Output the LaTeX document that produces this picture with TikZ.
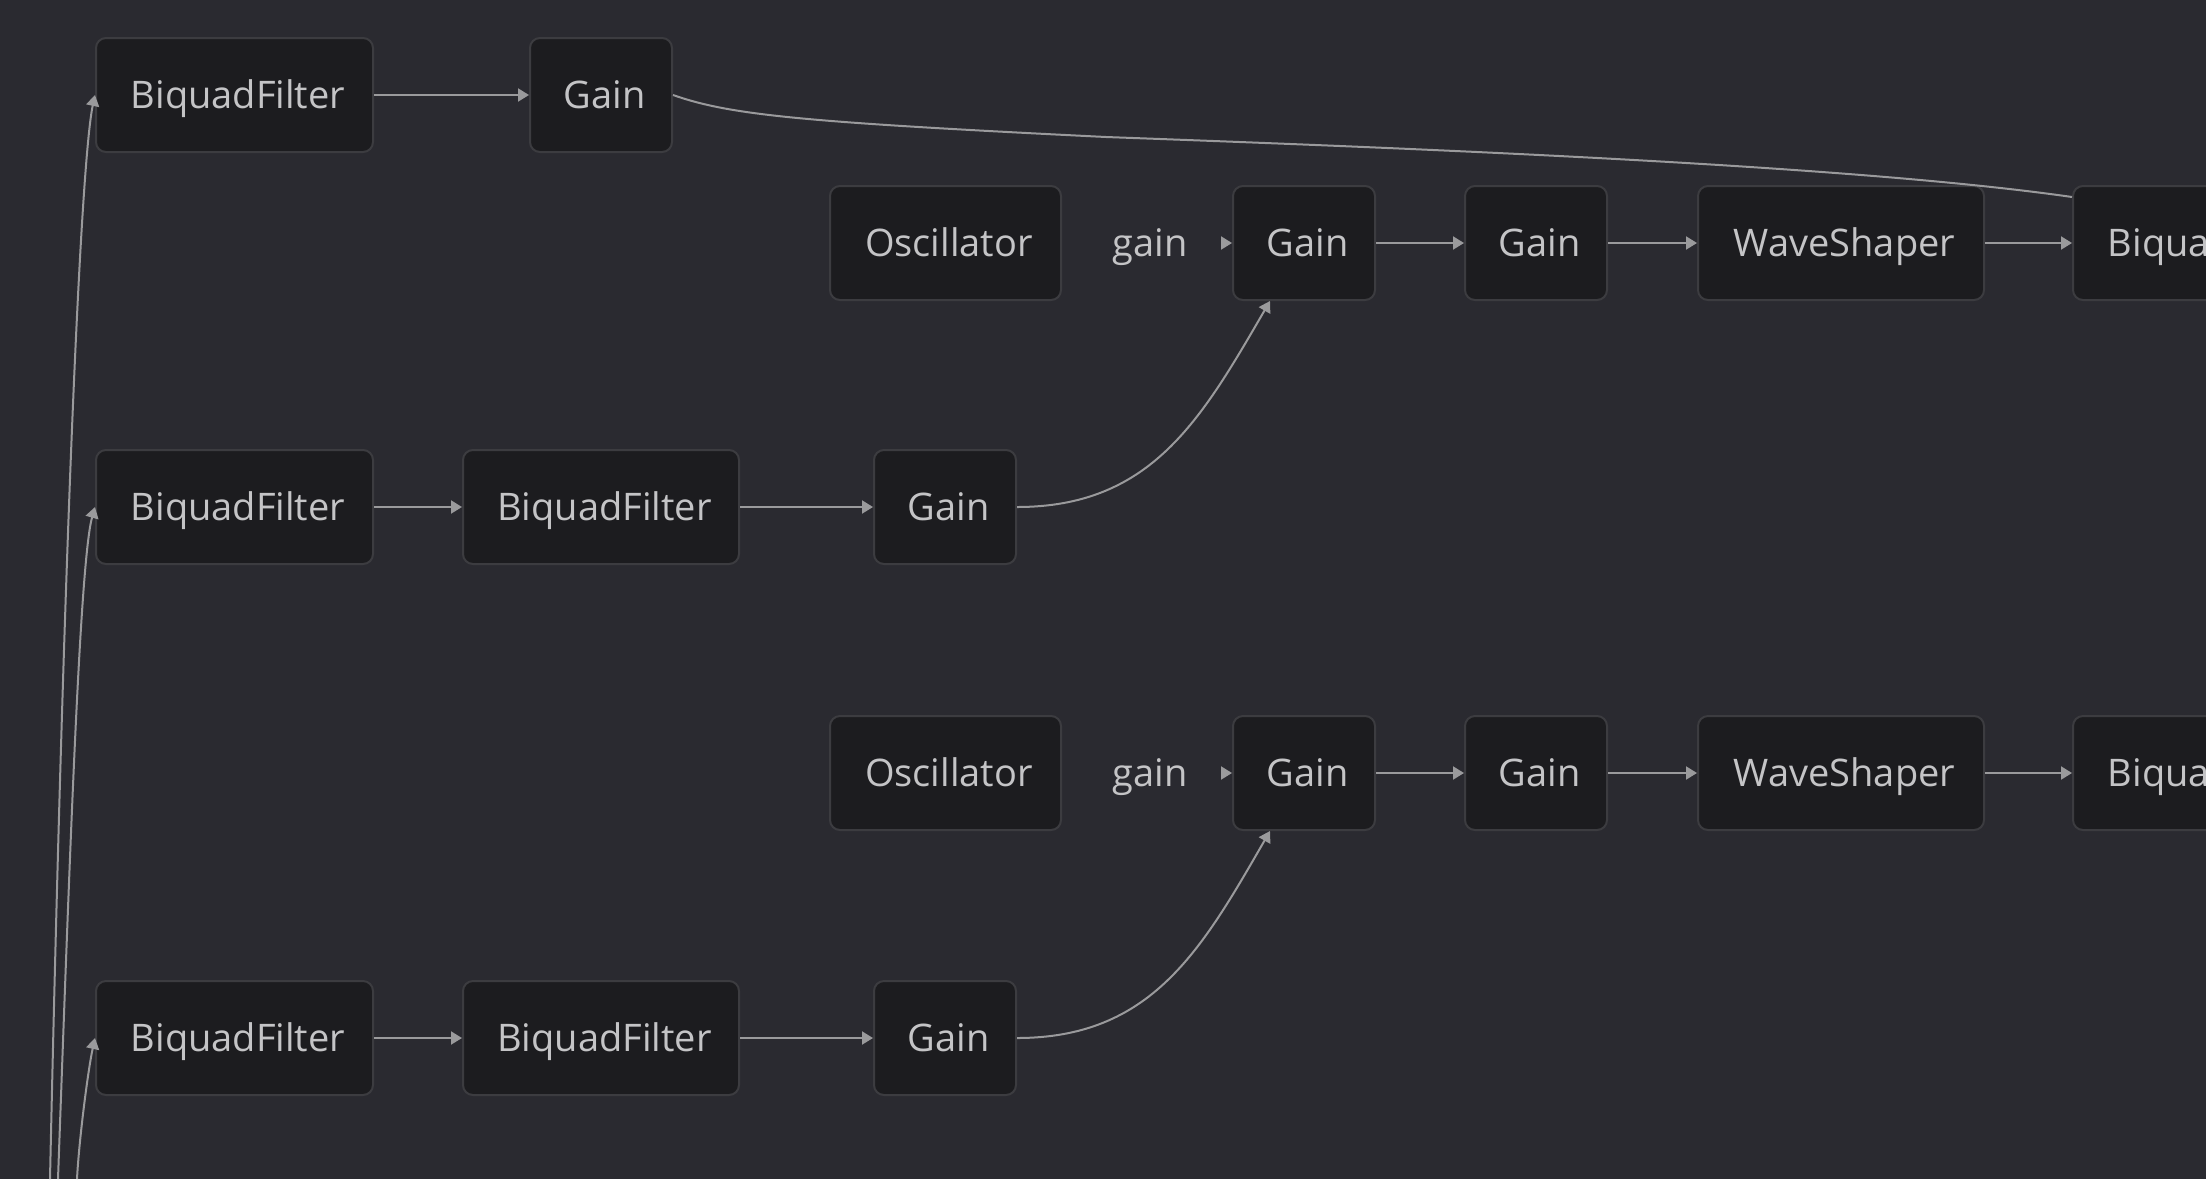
\documentclass[tikz,border=0pt]{standalone}
\usepackage{fontspec}
\setmainfont{Open Sans}
\usetikzlibrary{arrows.meta,calc}
\definecolor{bgc}{HTML}{2A2A30}
\definecolor{boxfill}{HTML}{1C1C1F}
\definecolor{boxborder}{HTML}{3C3C40}
\definecolor{txt}{HTML}{C4C4C6}
\definecolor{linec}{HTML}{9A9A9C}
\begin{document}
\begin{tikzpicture}[x=1pt,y=-1pt,
  box/.style={draw=boxborder, line width=2pt, fill=boxfill, rounded corners=10pt,
    minimum height=114pt, inner sep=0pt, text=txt,
    font=\fontsize{38}{46}\selectfont, text height=27pt, text depth=0pt,
    execute at begin node={\hspace*{7pt}}},
  lbl/.style={inner sep=0pt, text=txt, font=\fontsize{38}{46}\selectfont,
    text height=27pt, text depth=0pt},
  arr/.style={draw=linec, line width=2pt, -{Triangle[length=11pt,width=13pt]}},
  conn/.style={draw=linec, line width=2pt}]
\fill[bgc] (0,0) rectangle (2206,1179);
\useasboundingbox (0,0) rectangle (2206,1179);
\clip (0,0) rectangle (2206,1179);

% row 1
\node[box, minimum width=277pt] (bq1) at (234.5,95) {BiquadFilter};
\node[box, minimum width=142pt] (g1) at (601,95) {Gain};
% row 2
\node[box, minimum width=231pt] (osc1) at (945.5,243) {Oscillator};
\node[lbl] (lab1) at (1150,243) {gain};
\node[box, minimum width=142pt] (ga1) at (1304,243) {Gain};
\node[box, minimum width=142pt] (gb1) at (1536,243) {Gain};
\node[box, minimum width=286pt] (ws1) at (1841,243) {WaveShaper};
\node[box, minimum width=277pt] (bq2) at (2211.5,243) {BiquadFilter};
% row 3
\node[box, minimum width=277pt] (bq3) at (234.5,507) {BiquadFilter};
\node[box, minimum width=276pt] (bq4) at (601,507) {BiquadFilter};
\node[box, minimum width=142pt] (g3) at (945,507) {Gain};
% row 4
\node[box, minimum width=231pt] (osc2) at (945.5,773) {Oscillator};
\node[lbl] (lab2) at (1150,773) {gain};
\node[box, minimum width=142pt] (ga2) at (1304,773) {Gain};
\node[box, minimum width=142pt] (gb2) at (1536,773) {Gain};
\node[box, minimum width=286pt] (ws2) at (1841,773) {WaveShaper};
\node[box, minimum width=277pt] (bq5) at (2211.5,773) {BiquadFilter};
% row 5
\node[box, minimum width=277pt] (bq6) at (234.5,1038) {BiquadFilter};
\node[box, minimum width=276pt] (bq7) at (601,1038) {BiquadFilter};
\node[box, minimum width=142pt] (g5) at (945,1038) {Gain};

% free ends
\coordinate (s1) at (50,1179);
\coordinate (s3) at (58,1179);
\coordinate (s6) at (77,1179);
\coordinate (t1) at (1221,243);
\coordinate (t2) at (1221,773);
\coordinate (e1) at ($(bq2.north west)+(0,12)$);

% straight arrows
\draw[arr] (bq1.east) -- (g1.west);
\draw[arr] (t1) -- (ga1.west);
\draw[arr] (ga1.east) -- (gb1.west);
\draw[arr] (gb1.east) -- (ws1.west);
\draw[arr] (ws1.east) -- (bq2.west);
\draw[arr] (bq3.east) -- (bq4.west);
\draw[arr] (bq4.east) -- (g3.west);
\draw[arr] (t2) -- (ga2.west);
\draw[arr] (ga2.east) -- (gb2.west);
\draw[arr] (gb2.east) -- (ws2.west);
\draw[arr] (ws2.east) -- (bq5.west);
\draw[arr] (bq6.east) -- (bq7.west);
\draw[arr] (bq7.east) -- (g5.west);

% curved connectors
\draw[arr] (g3.east) .. controls ($(g3.east)+(134,0)$) and ($(g3.east)+(184,-87)$) .. ($(ga1.south west)+(38,0)$);
\draw[arr] (g5.east) .. controls ($(g5.east)+(134,0)$) and ($(g5.east)+(184,-87)$) .. ($(ga2.south west)+(38,0)$);
\draw[conn] (g1.east) .. controls (730,115) and (800,122) .. (1106,137)
  .. controls (1406,148) and (1850,165) .. (e1);
\draw[arr] (s1) .. controls (64,540) and (81,160) .. (bq1.west);
\draw[arr] (s3) .. controls (70,850) and (80,560) .. (bq3.west);
\draw[arr] (s6) .. controls (79,1140) and (88,1070) .. (bq6.west);
\end{tikzpicture}
\end{document}
